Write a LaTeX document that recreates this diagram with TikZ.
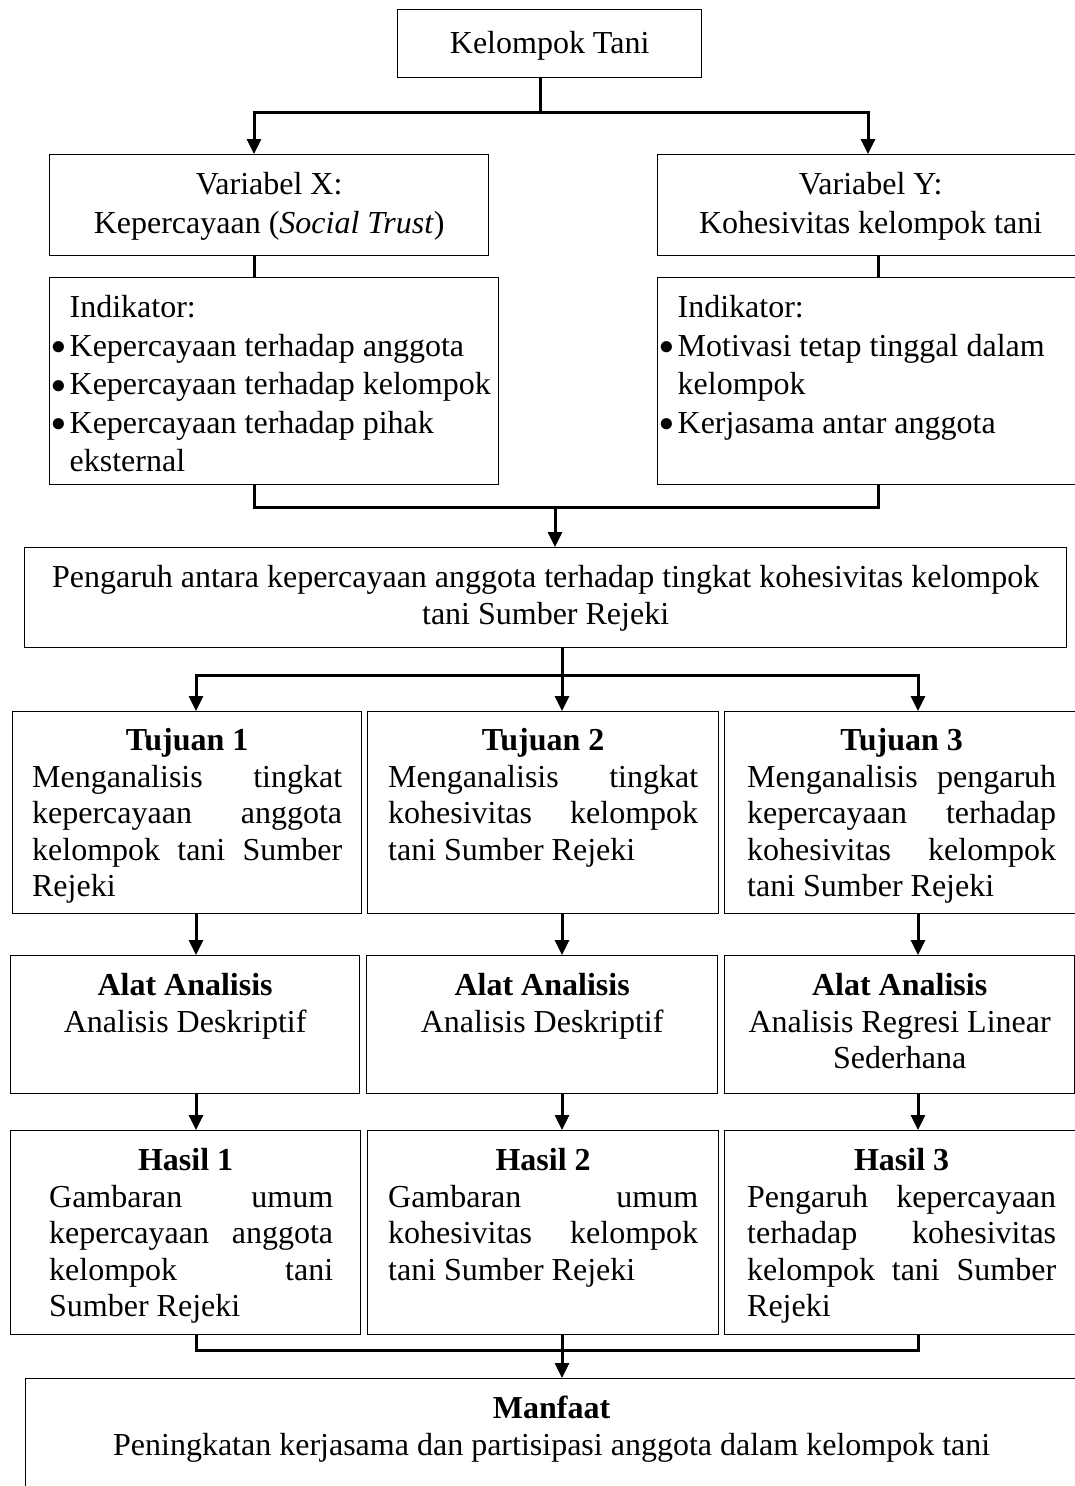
\documentclass[tikz,border=0pt]{standalone}
\usepackage{fontspec}
\setmainfont{Liberation Serif}
\usetikzlibrary{arrows.meta}

\newcommand{\isikotak}[5][\centering]{\parbox[c][#3][t]{#2}{#1\rule{0pt}{#4}#5}}
\newcommand{\butir}{\makebox[20pt][l]{\hspace{1pt}\raisebox{1.5pt}{\fontsize{26}{26}\selectfont ●}}}

\tikzset{
  kotak/.style={draw, line width=1.3pt, inner sep=0pt, anchor=north west,
    font=\fontsize{32}{36.5}\selectfont},
  renggang/.style={font=\fontsize{32}{38.5}\selectfont},
  garis/.style={line width=3pt},
  panah/.style={line width=3pt, -{Stealth[length=15pt,width=14pt,inset=0pt]}}
}

\begin{document}
\begin{tikzpicture}[x=1pt,y=-1pt]
  \useasboundingbox (0,0) rectangle (1075,1486);
  \clip (0,0) rectangle (1075,1486);
  % boxes
  \node[kotak] (kt) at (397,9) {\isikotak{304pt}{68pt}{44pt}{Kelompok Tani}};
  \node[kotak,renggang] (varx) at (49,154) {\isikotak{439pt}{101pt}{40pt}{Variabel X:\\Kepercayaan (\textit{Social Trust})}};
  \node[kotak,renggang] (vary) at (657,154) {\isikotak{426pt}{101pt}{40pt}{Variabel Y:\\Kohesivitas kelompok tani}\hspace{40pt}};
  \node[kotak,renggang] (indx) at (49,277) {\isikotak[\raggedright]{449pt}{207pt}{40pt}{%
    \hspace*{20pt}Indikator:\\
    \butir Kepercayaan terhadap anggota\\
    \butir Kepercayaan terhadap kelompok\\
    \butir Kepercayaan terhadap pihak\\
    \hspace*{20pt}eksternal}};
  \node[kotak,renggang] (indy) at (657,277) {\isikotak[\raggedright]{470pt}{207pt}{40pt}{%
    \hspace*{20pt}Indikator:\\
    \butir Motivasi tetap tinggal dalam\\
    \hspace*{20pt}kelompok\\
    \butir Kerjasama antar anggota}};
  \node[kotak] (peng) at (24,547) {\isikotak{1042pt}{100pt}{40pt}{Pengaruh antara kepercayaan anggota terhadap tingkat kohesivitas kelompok\\tani Sumber Rejeki}};

  \node[kotak] (tuj1) at (12,711) {\isikotak{349pt}{202pt}{39pt}{\textbf{Tujuan 1}\\
    \makebox[310pt]{Menganalisis\hfill tingkat}\\
    \makebox[310pt]{kepercayaan\hfill anggota}\\
    \makebox[310pt]{kelompok\hfill tani\hfill Sumber}\\
    \makebox[310pt][l]{Rejeki}}};
  \node[kotak] (tuj2) at (367,711) {\isikotak{351pt}{202pt}{39pt}{\textbf{Tujuan 2}\\
    \makebox[310pt]{Menganalisis\hfill tingkat}\\
    \makebox[310pt]{kohesivitas\hfill kelompok}\\
    \makebox[310pt][l]{tani Sumber Rejeki}}};
  \node[kotak] (tuj3) at (724,711) {\isikotak{354pt}{202pt}{39pt}{\textbf{Tujuan 3}\\
    \makebox[309pt]{Menganalisis\hfill pengaruh}\\
    \makebox[309pt]{kepercayaan\hfill terhadap}\\
    \makebox[309pt]{kohesivitas\hfill kelompok}\\
    \makebox[309pt][l]{tani Sumber Rejeki}}\hspace{40pt}};

  \node[kotak] (alat1) at (10,955) {\isikotak{349pt}{138pt}{40pt}{\textbf{Alat Analisis}\\Analisis Deskriptif}};
  \node[kotak] (alat2) at (366,955) {\isikotak{351pt}{138pt}{40pt}{\textbf{Alat Analisis}\\Analisis Deskriptif}};
  \node[kotak] (alat3) at (724,955) {\isikotak{350pt}{138pt}{40pt}{\textbf{Alat Analisis}\\Analisis Regresi Linear\\Sederhana}};

  \node[kotak] (hasil1) at (10,1130) {\isikotak{350pt}{204pt}{40pt}{\textbf{Hasil 1}\\
    \hspace*{11pt}\makebox[284pt]{Gambaran\hfill umum}\\
    \hspace*{11pt}\makebox[284pt]{kepercayaan\hfill anggota}\\
    \hspace*{11pt}\makebox[284pt]{kelompok\hfill tani}\\
    \hspace*{11pt}\makebox[284pt][l]{Sumber Rejeki}}};
  \node[kotak] (hasil2) at (367,1130) {\isikotak{351pt}{204pt}{40pt}{\textbf{Hasil 2}\\
    \makebox[310pt]{Gambaran\hfill umum}\\
    \makebox[310pt]{kohesivitas\hfill kelompok}\\
    \makebox[310pt][l]{tani Sumber Rejeki}}};
  \node[kotak] (hasil3) at (724,1130) {\isikotak{354pt}{204pt}{40pt}{\textbf{Hasil 3}\\
    \makebox[309pt]{Pengaruh\hfill kepercayaan}\\
    \makebox[309pt]{terhadap\hfill kohesivitas}\\
    \makebox[309pt]{kelompok\hfill tani\hfill Sumber}\\
    \makebox[309pt][l]{Rejeki}}\hspace{40pt}};

  \node[kotak] (manfaat) at (25,1378) {\isikotak{1052pt}{130pt}{40pt}{\textbf{Manfaat}\\Peningkatan kerjasama dan partisipasi anggota dalam kelompok tani}\hspace{40pt}};

  % junctions and columns
  \coordinate (s1) at (540,112);
  \coordinate (s2) at (555,507);
  \coordinate (s3) at (562,675);
  \coordinate (s4) at (562,1350);
  \coordinate (xa) at (254,0);
  \coordinate (xb) at (868,0);
  \coordinate (xc) at (878,0);
  \coordinate (k1) at (196,0);
  \coordinate (k2) at (562,0);
  \coordinate (k3) at (918,0);

  % connectors
  \draw[garis] (kt.south -| s1) -- (s1);
  \draw[panah] (s1) -| (xa |- varx.north);
  \draw[panah] (s1) -| (xb |- vary.north);
  \draw[garis] (varx.south -| xa) -- (indx.north -| xa);
  \draw[garis] (vary.south -| xc) -- (indy.north -| xc);
  \draw[garis] (indx.south -| xa) |- (s2) -| (indy.south -| xc);
  \draw[panah] (s2) -- (s2 |- peng.north);
  \draw[garis] (peng.south -| s3) -- (s3);
  \draw[panah] (s3) -| (k1 |- tuj1.north);
  \draw[panah] (s3) -- (k2 |- tuj2.north);
  \draw[panah] (s3) -| (k3 |- tuj3.north);
  \path[panah]
    (tuj1.south -| k1) edge (alat1.north -| k1)
    (tuj2.south -| k2) edge (alat2.north -| k2)
    (tuj3.south -| k3) edge (alat3.north -| k3)
    (alat1.south -| k1) edge (hasil1.north -| k1)
    (alat2.south -| k2) edge (hasil2.north -| k2)
    (alat3.south -| k3) edge (hasil3.north -| k3);
  \draw[garis] (hasil1.south -| k1) |- (s4) -| (hasil3.south -| k3);
  \draw[panah] (hasil2.south -| k2) -- (manfaat.north -| k2);
\end{tikzpicture}
\end{document}
